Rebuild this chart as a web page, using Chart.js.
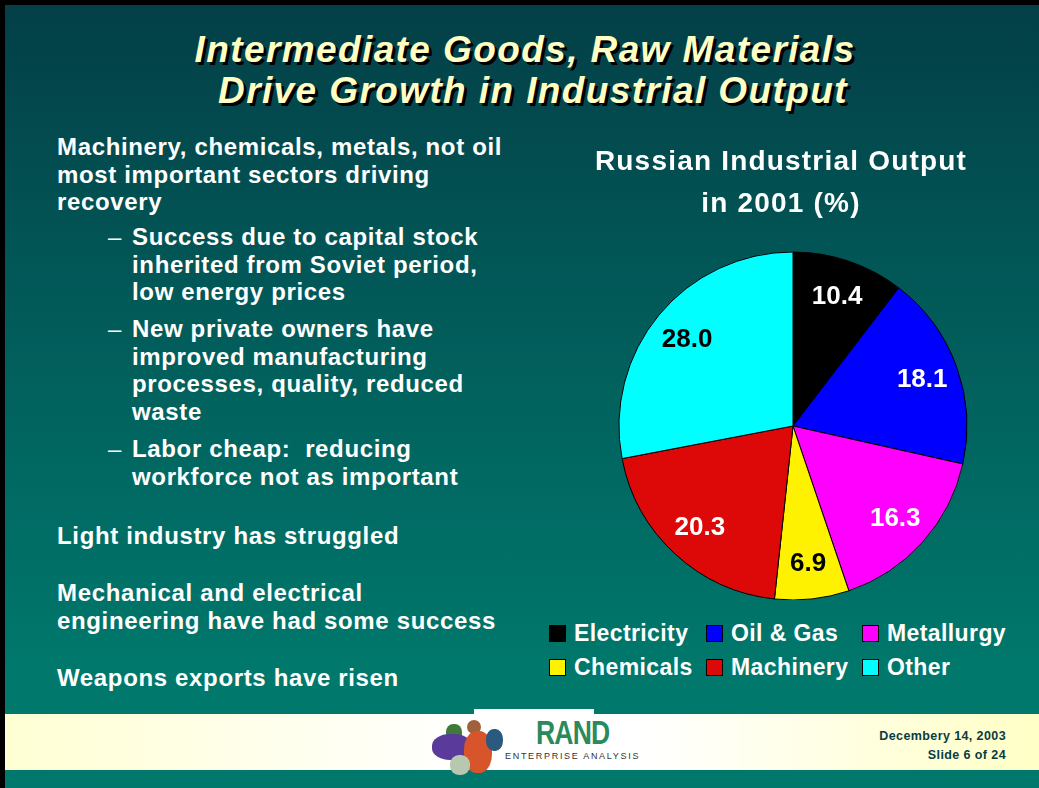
<!DOCTYPE html>
<html>
<head>
<meta charset="utf-8">
<script src="https://cdn.jsdelivr.net/npm/chart.js@4"></script>
<style>
body { margin: 0; width: 1039px; height: 788px; background: #000; position: relative; overflow: hidden; font-family: "Liberation Sans", Arial, sans-serif; }
#slide { position: absolute; left: 5px; top: 5px; width: 1034px; height: 783px; background: linear-gradient(to bottom, #033f47 0%, #01625e 50%, #00786c 85%, #00786c 100%); }
.title { position: absolute; white-space: nowrap; transform: translateX(-50%); font-size: 37px; line-height: 37px; font-weight: bold; font-style: italic; color: #ffffc4; letter-spacing: 1.4px; text-shadow: 3px 3px 0 #000; }
.para { position: absolute; left: 57px; color: #fff; font-weight: bold; font-size: 24px; line-height: 27.6px; letter-spacing: 0.65px; white-space: nowrap; }
.sub { left: 132px; }
.dash { position: absolute; left: -24px; top: 0; font-weight: normal; }
#chartBox { position: absolute; left: 560px; top: 130px; width: 466px; height: 470px; }
#legend { position: absolute; left: 549px; top: 622px; display: grid; grid-template-columns: 157px 156px auto; row-gap: 11px; }
.item { display: flex; align-items: center; height: 23px; color: #fff; font-weight: bold; font-size: 23px; letter-spacing: 0.4px; white-space: nowrap; }
.box { width: 15px; height: 15px; border: 1px solid #000; margin-right: 8px; }
#footer { position: absolute; left: 5px; top: 714px; width: 1034px; height: 56px; background: linear-gradient(to right, #ffffd4 0%, #ffffff 45%, #ffffff 62%, #ffffc6 100%); }
#logoTop { position: absolute; left: 474px; top: 709px; width: 120px; height: 6px; background: #fff; }
.piece { position: absolute; border-radius: 45%; }
#rand { position: absolute; left: 536px; top: 715px; font-size: 34px; line-height: 34px; font-weight: bold; color: #2a8a5c; transform: scaleX(0.78); transform-origin: left; letter-spacing: -1px; }
#ea { position: absolute; left: 505px; top: 751px; font-size: 9px; line-height: 11px; color: #333; letter-spacing: 1.7px; }
.date { position: absolute; right: 33px; font-size: 12.5px; line-height: 14px; font-weight: bold; color: #083c44; letter-spacing: 0.4px; text-align: right; }
</style>
</head>
<body>
<div id="slide"></div>

<div class="title" style="left:525px; top:31px;">Intermediate Goods, Raw Materials</div>
<div class="title" style="left:533px; top:72px;">Drive Growth in Industrial Output</div>

<div class="para" style="top:133px;">Machinery, chemicals, metals, not oil<br>most important sectors driving<br>recovery</div>
<div class="para sub" style="top:223px;"><span class="dash">&ndash;</span>Success due to capital stock<br>inherited from Soviet period,<br>low energy prices</div>
<div class="para sub" style="top:315px;"><span class="dash">&ndash;</span>New private owners have<br>improved manufacturing<br>processes, quality, reduced<br>waste</div>
<div class="para sub" style="top:435px;"><span class="dash">&ndash;</span>Labor cheap:&nbsp; reducing<br>workforce not as important</div>
<div class="para" style="top:522px;">Light industry has struggled</div>
<div class="para" style="top:579px;">Mechanical and electrical<br>engineering have had some success</div>
<div class="para" style="top:664px;">Weapons exports have risen</div>

<div id="chartBox"><canvas id="chart"></canvas></div>
<div id="legend"></div>

<div id="footer"></div>
<div id="logoTop"></div>
<div class="piece" style="left:446px; top:724px; width:16px; height:18px; background:#3f7a3a;"></div>
<div class="piece" style="left:432px; top:734px; width:40px; height:26px; background:#5a3a9a;"></div>
<div class="piece" style="left:467px; top:720px; width:14px; height:14px; background:#a0603a; border-radius:50%;"></div>
<div class="piece" style="left:464px; top:731px; width:28px; height:42px; background:#d8542a;"></div>
<div class="piece" style="left:486px; top:729px; width:17px; height:22px; background:#2a5a80;"></div>
<div class="piece" style="left:450px; top:755px; width:20px; height:20px; background:#b8c8b0;"></div>
<div id="rand">RAND</div>
<div id="ea">ENTERPRISE ANALYSIS</div>
<div class="date" style="top:729px;">Decembery 14, 2003</div>
<div class="date" style="top:748px;">Slide 6 of 24</div>

<script>
let sectors = ["Electricity", "Oil & Gas", "Metallurgy", "Chemicals", "Machinery", "Other"];
let shares = [10.4, 18.1, 16.3, 6.9, 20.3, 28.0];
let sliceColors = ['#000000', '#0000ff', '#ff00ff', '#fff200', '#dd0808', '#00ffff'];
let labelColors = ['#ffffff', '#ffffff', '#ffffff', '#000000', '#ffffff', '#000000'];

// legend laid out as a 3 column grid like the slide
let legend = document.getElementById('legend');
sectors.forEach(function (name, i) {
    let item = document.createElement('div');
    item.className = 'item';
    let box = document.createElement('span');
    box.className = 'box';
    box.style.background = sliceColors[i];
    item.appendChild(box);
    item.appendChild(document.createTextNode(name));
    legend.appendChild(item);
});

// title sits a bit left of the pie centre on the slide, values go inside the slices
let sliceLabels = {
    id: 'sliceLabels',
    beforeDraw(chart) {
        chart.ctx.save();
        chart.ctx.letterSpacing = '1.2px';
        chart.ctx.translate(-12, 0);
    },
    beforeDatasetsDraw(chart) {
        chart.ctx.restore();
    },
    afterDatasetsDraw(chart) {
        let ctx = chart.ctx;
        let meta = chart.getDatasetMeta(0);
        ctx.save();
        ctx.font = 'bold 26px "Liberation Sans", Arial, sans-serif';
        ctx.textAlign = 'center';
        ctx.textBaseline = 'middle';
        meta.data.forEach(function (arc, i) {
            let p = arc.getProps(['x', 'y', 'startAngle', 'endAngle', 'outerRadius'], true);
            let mid = (p.startAngle + p.endAngle) / 2;
            let r = p.outerRadius * 0.79;
            ctx.fillStyle = labelColors[i];
            ctx.fillText(shares[i].toFixed(1), p.x + Math.cos(mid) * r, p.y + Math.sin(mid) * r + 1);
        });
        ctx.restore();
    }
};

let ctx = document.getElementById('chart').getContext('2d');
let chart = new Chart(ctx, {
    type: 'pie',
    data: {
        labels: sectors,
        datasets: [{
            data: shares,
            backgroundColor: sliceColors,
            borderColor: '#000000',
            borderWidth: 1,
        }]
    },
    options: {
        responsive: true,
        maintainAspectRatio: false,
        animation: false,
        radius: 174,
        plugins: {
            legend: { display: false },
            tooltip: { enabled: false },
            title: {
                display: true,
                text: ['Russian Industrial Output', 'in 2001 (%)'],
                color: '#ffffff',
                font: { family: '"Liberation Sans", Arial, sans-serif', size: 28, weight: 'bold', lineHeight: 1.5 },
                padding: { top: 11, bottom: 27 }
            }
        }
    },
    plugins: [sliceLabels]
});
</script>
</body>
</html>
